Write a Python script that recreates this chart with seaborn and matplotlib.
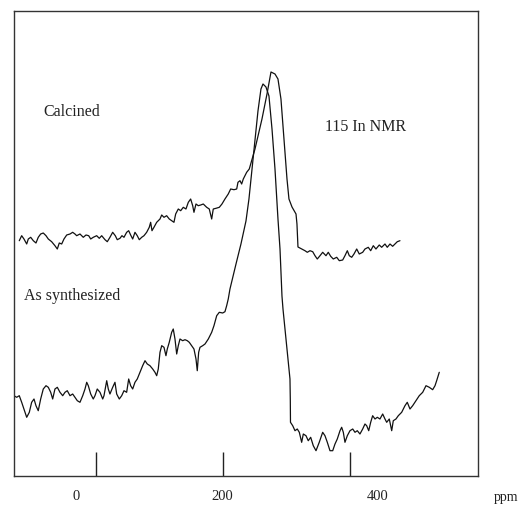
import numpy as np
import pandas as pd
import matplotlib
matplotlib.use("Agg")
import matplotlib.pyplot as plt
import seaborn as sns

# ---- data (chemical shift in ppm, intensity in arbitrary units) ----
calc_ppm = [
    -120.8, -117.0, -113.4, -109.1, -106.6, -102.8, -98.7, -94.5, -90.9, -87.1,
    -83.0, -78.7, -75.1, -69.8, -64.6, -60.9, -57.8, -54.0, -50.4, -46.1,
    -40.9, -36.7, -33.1, -30.4, -25.2, -20.0, -15.7, -11.5, -8.3, -4.3,
    1.1, 5.2, 9.0, 14.2, 17.8, 22.0, 26.3, 30.4, 33.5, 37.8,
    40.9, 44.1, 48.3, 51.5, 54.6, 57.8, 61.4, 65.0, 68.2, 72.0,
    75.6, 79.8, 83.9, 86.1, 88.2, 91.3, 95.6, 100.8, 103.5, 107.1,
    111.3, 115.4, 119.2, 122.8, 125.5, 129.6, 133.4, 137.5, 141.7, 145.4,
    149.1, 152.3, 154.3, 157.5, 161.1, 164.9, 169.0, 174.3, 178.4, 182.2,
    184.7, 189.0, 194.2, 198.4, 203.1, 208.3, 212.1, 217.3, 221.6, 223.6,
    226.8, 229.4, 232.0, 237.3, 241.4,
    250.4, 261.4, 269.3, 275.6, 281.9, 286.6, 291.3, 296.1, 300.8, 303.9,
    308.7, 315.0, 316.5, 318.1,
    323.9, 329.1, 332.8, 337.0, 341.3, 344.9, 348.5, 352.8, 357.0, 362.2,
    365.8, 369.6, 373.7, 379.1, 383.2, 388.5, 392.1, 395.8, 398.9, 402.7,
    406.3, 410.6, 414.6, 420.0, 423.6, 428.8, 432.6, 436.7, 440.9, 446.1,
    449.9, 455.1, 458.7, 463.0, 467.2, 470.9, 474.5, 478.7,
]
calc_int = [
    235.3, 240.3, 237, 232, 237, 238.7, 235.3, 233, 238.7, 242,
    243, 240.3, 237, 234.3, 230.3, 227, 233, 232, 237, 241,
    242, 243.7, 242, 240.3, 242, 238.7, 241, 240.3, 237, 238.7,
    240.3, 237.7, 240.3, 236.3, 234.3, 238.7, 243.7, 240.3, 236.3, 237.7,
    240.3, 238.7, 243.7, 245.3, 241, 237, 243.7, 240.3, 236.3, 238.7,
    240.3, 243.7, 248.7, 253.7, 245.3, 248.7, 253.7, 257, 261, 258.7,
    260.3, 257, 255.3, 253.7, 262, 267, 265.3, 268.7, 267, 273.7,
    277, 270.3, 263.7, 272, 270.3, 271, 272, 268.7, 267, 257,
    267, 267.7, 268.7, 272, 277, 282, 287, 286.3, 287, 293.7,
    295.3, 292, 297, 303.7, 307,
    327, 357, 382, 404, 402, 397, 377, 337, 297, 277,
    269, 262, 252, 229,
    227, 225.3, 223.7, 225.3, 224.3, 220.3, 217, 220.3, 223.7, 220.3,
    223.7, 219.7, 217, 218.7, 215.3, 216, 220.3, 225.3, 220.3, 218.7,
    222, 227, 222, 223.7, 227, 228.7, 225.3, 230.3, 227, 231,
    228.7, 232, 228.7, 232, 229.7, 232, 234.3, 235.3,
]

syn_ppm = [
    -129.1, -124.9, -120.8, -117.0, -113.4, -109.1, -105.0, -101.3, -97.6, -94.5,
    -90.9, -87.1, -83.0, -78.7, -75.1, -71.3, -68.2, -64.6, -60.9, -56.7,
    -52.4, -48.8, -45.2, -40.9, -36.7, -33.1, -29.4, -25.2, -20.9, -17.3,
    -14.6, -12.1, -8.3, -4.3, -1.6, 2.0, 6.3, 10.6, 12.6, 16.9,
    19.4, 22.0, 26.3, 29.9, 32.6, 36.7, 40.5, 44.1, 48.3, 51.5,
    54.6, 57.8, 61.4, 65.0, 69.3, 73.5, 77.2, 80.8, 85.0, 89.3,
    92.9, 95.6, 98.1, 100.8, 103.5, 107.1, 110.2, 112.3, 115.4, 119.2,
    121.7, 124.4, 127.1, 129.6, 132.3, 136.5, 140.2, 143.8, 146.9, 150.7,
    154.3, 157.5, 159.5, 161.7, 163.8, 168.0, 171.7, 176.9, 182.2, 185.8,
    190.1, 194.2, 199.5, 203.1, 205.8, 208.3,
    211.0, 220.5, 228.3, 236.2, 240.9, 245.7, 250.4, 255.1, 259.8, 263.0,
    267.7, 272.4, 277.2, 281.9, 286.6, 289.8, 292.9, 294.5, 297.6, 300.8,
    303.9, 305.5, 306.0, 306.3,
    309.8, 313.4, 317.0, 320.2, 323.9, 326.5, 330.7, 334.3, 338.1, 342.2,
    346.5, 351.6, 357.0, 360.6, 364.3, 368.5, 372.8, 376.4, 380.0, 384.3,
    386.9, 389.5, 392.1, 395.8, 400.0, 404.3, 407.9, 411.5, 415.7, 420.0,
    423.6, 426.3, 429.5, 432.6, 435.7, 439.4, 443.0, 447.2, 451.5, 455.1,
    457.8, 461.9, 465.7, 468.2, 472.4, 476.1, 481.4, 486.6, 490.2, 494.5,
    498.7, 503.9, 509.1, 514.5, 519.7, 524.9, 530.2, 533.9, 536.5, 540.6,
]
syn_int = [
    80.3, 78.7, 80.3, 73.7, 67, 58.7, 63.7, 73.7, 77, 70.3,
    65.3, 77, 87, 90.3, 88.7, 83.7, 77, 87, 88.7, 83.7,
    80.3, 83.7, 85.3, 80.3, 82, 78.7, 75.3, 73.7, 80.3, 87,
    93.7, 90.3, 82, 77, 80.3, 87, 83.7, 77, 80.3, 95.3,
    87, 82, 88.7, 93.7, 82, 77, 80.3, 85.3, 83.7, 97,
    90.3, 87, 93.7, 97, 103.7, 110.3, 115.3, 112, 110.3, 107,
    103.7, 100.3, 107, 123.7, 130.3, 128.7, 120.3, 127, 133.7, 143.7,
    147, 137, 122, 130.3, 137, 135.3, 136.3, 135.3, 133.7, 130.3,
    127, 117, 105.3, 123.7, 128.7, 130.3, 132, 137, 143.7, 150.3,
    160.3, 163.7, 163, 164.3, 170.3, 177,
    187, 212, 232, 255, 277, 307, 337, 365, 387, 392,
    389, 380, 347, 307, 257, 227, 180, 167, 147, 127,
    107, 97, 77, 53.7,
    50.3, 45.3, 47, 43.7, 33.7, 42, 40.3, 35.3, 38.7, 30.3,
    25.3, 33.7, 43.7, 40.3, 33.7, 25.3, 25.3, 32, 37, 45.3,
    48.7, 43.7, 33.7, 40.3, 45.3, 47, 43.7, 45.3, 42, 47,
    52, 50.3, 45.3, 53.7, 60.3, 57, 58.7, 57, 62, 57,
    53.7, 57, 45.3, 55.3, 57, 60.3, 63.7, 70.3, 73.7, 67,
    70.3, 75.3, 80.3, 83.7, 90.3, 88.7, 86.3, 90.3, 95.3, 103.7,
]

tick_values = [0, 200, 400]
tick_labels = ["0", "200", "400"]
label_ppm = [-31.5, 198.4, 444.1]   # where the printed numbers sit
series_names = ["Calcined", "As synthesized"]

# ---- plot ----
sns.set_style("white")
plt.rcParams["font.family"] = ["Liberation Serif", "DejaVu Serif"]

fig = plt.figure(figsize=(5.19, 5.10), dpi=100)
ax = fig.add_axes([14 / 519, 1 - 477 / 510, 464 / 519, 465 / 510])

df = pd.concat([
    pd.DataFrame({"ppm": calc_ppm, "intensity": calc_int, "sample": series_names[0]}),
    pd.DataFrame({"ppm": syn_ppm, "intensity": syn_int, "sample": series_names[1]}),
], ignore_index=True)

sns.lineplot(data=df, x="ppm", y="intensity", units="sample", estimator=None,
             sort=False, color="#111111", linewidth=0.9, ax=ax, legend=False)

ax.set_xlim(-129.1, 601.6)
ax.set_ylim(0, 465)
ax.set_xlabel("")
ax.set_ylabel("")
ax.set_yticks([])
ax.set_xticks(tick_values)
ax.set_xticklabels([])
ax.tick_params(axis="x", direction="in", length=17, width=1.0, color="#222222",
               bottom=True)
for s in ax.spines.values():
    s.set_visible(True)
    s.set_color("#333333")
    s.set_linewidth(1.0)

txt_color = "#222222"
for pos, lab in zip(label_ppm, tick_labels):
    ax.text(pos, -20, lab, ha="center", va="center", fontsize=10.5,
            color=txt_color, clip_on=False)
ax.text(646.0, -21, "ppm", ha="center", va="center", fontsize=10,
        color=txt_color, clip_on=False)

ax.text(-83.5, 365, series_names[0], ha="left", va="center", fontsize=11.5,
        color=txt_color)
ax.text(-113.4, 181, series_names[1], ha="left", va="center", fontsize=11.5,
        color=txt_color)
ax.text(360.6, 350, "115 In NMR", ha="left", va="center", fontsize=11.5,
        color=txt_color)

fig.savefig("out.png", dpi=100)
